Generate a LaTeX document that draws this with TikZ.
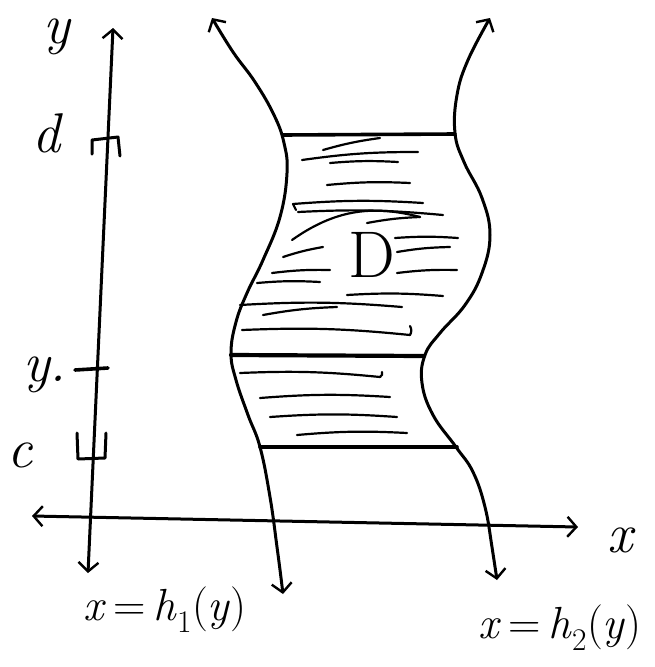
\documentclass[tikz,border=0pt]{standalone}
\usetikzlibrary{arrows.meta}
\begin{document}
\begin{tikzpicture}[x=1pt,y=-1pt,
  ink/.style={line width=3pt, line cap=round, line join=round},
  hatch/.style={line width=2.2pt, line cap=round},
  barb/.style={{Straight Barb[length=9pt,width=20pt,line width=2.4pt]}-{Straight Barb[length=9pt,width=20pt,line width=2.4pt]}},
  big/.style={font=\fontsize{56}{60}\selectfont\itshape, inner sep=0pt},
  eqn/.style={font=\fontsize{45}{48}\selectfont, inner sep=0pt}
]
\useasboundingbox (0,0) rectangle (655,667);

% axes
\coordinate (ytop) at (113,28);
\coordinate (ybot) at (88,573);
\coordinate (xl) at (32,516);
\coordinate (xr) at (578,527);
\draw[ink,barb] (ybot) -- (ytop);
\draw[ink,barb] (xl) -- (xr);

% ticks on y axis
\coordinate (d1) at (92,154); \coordinate (d2) at (92,140);
\coordinate (d3) at (118,137); \coordinate (d4) at (120,156);
\draw[ink] (d1) -- (d2) -- (d3) -- (d4);
\coordinate (c1) at (77,433); \coordinate (c2) at (78,459);
\coordinate (c3) at (105,458); \coordinate (c4) at (106,433);
\draw[ink] (c1) -- (c2) -- (c3) -- (c4);
\coordinate (y1) at (75,370); \coordinate (y2) at (108,368);
\draw[ink,line width=3.6pt] (y1) -- (y2);

% boundary curves
\draw[ink,barb] plot[smooth,tension=0.7] coordinates {(283,594) (277,547) (270,497) (260,447) (248,415) (236,380) (231,353) (236,322) (247,293) (263,260) (280,217) (287,173) (284,143) (274,115) (255,82) (233,52) (212,18)};
\draw[ink,barb] plot[smooth,tension=0.7] coordinates {(497,580) (492,547) (485,507) (473,472) (456,447) (433,415) (422,383) (425,355) (440,333) (465,305) (482,273) (490,235) (482,198) (464,162) (455,133) (457,95) (468,60) (490,18)};

% horizontal strips
\coordinate (tl) at (283,135); \coordinate (tr) at (455,134);
\coordinate (ml) at (231,355); \coordinate (mr) at (424,356);
\coordinate (bl) at (260,447); \coordinate (br) at (457,447);
\draw[ink,line width=3.6pt] (tl) -- (tr);
\draw[ink,line width=4.2pt] (ml) -- (mr);
\draw[ink,line width=3.6pt] (bl) -- (br);

% hatching
\foreach \xa/\ya/\xb/\yb [count=\i] in {
  323/150/380/138, 302/160/418/152, 330/163/398/162, 327/185/410/183,
  293/204/423/203, 298/212/443/215, 367/223/420/217, 395/238/458/238,
  397/252/450/247, 283/257/323/247, 272/273/330/270, 257/283/320/282,
  397/273/457/270, 347/295/443/296, 240/305/402/307, 263/315/337/307,
  242/330/410/335, 240/373/380/377, 260/398/390/397, 270/417/397/417,
  297/435/407/433}{
  \coordinate (ha\i) at (\xa,\ya);
  \coordinate (hb\i) at (\xb,\yb);
  \draw[hatch] (ha\i) to[bend left=4] (hb\i);
}
\coordinate (hk1) at (410,326); \draw[hatch] (hb17) to[bend right=30] (hk1);
\coordinate (hk2) at (382,372); \draw[hatch] (hb18) to[bend right=40] (hk2);
\coordinate (lp1) at (296,210); \draw[hatch] (ha5) -- (lp1);
\coordinate (lp2) at (292,240); \draw[hatch] (lp2) to[bend left=25] (hb7);

% labels
\node[big] (ly) at (57,37) {y};
\node[big] (ld) at (46,133) {d};
\node[big] (lyy) at (45,375) {y.};
\node[big] (lc) at (20,455) {c};
\node[big] (lx) at (620,540) {x};
\node[font=\fontsize{66}{70}\selectfont, inner sep=0pt] (lD) at (372,255) {D};
\node[eqn] (lh1) at (165,610) {\textit{x}\,=\,\textit{h}\textsubscript{1}(\textit{y})};
\node[eqn] (lh2) at (560,628) {\textit{x}\,=\,\textit{h}\textsubscript{2}(\textit{y})};
\end{tikzpicture}
\end{document}
